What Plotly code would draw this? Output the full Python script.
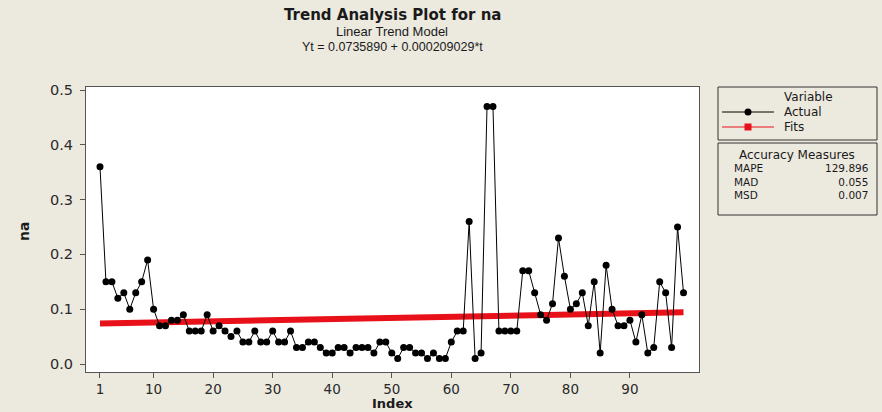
import plotly.graph_objects as go

# ---- data ----
index = list(range(1, 100))
actual = [
    0.36, 0.15, 0.15, 0.12, 0.13, 0.10, 0.13, 0.15, 0.19, 0.10,
    0.07, 0.07, 0.08, 0.08, 0.09, 0.06, 0.06, 0.06, 0.09, 0.06,
    0.07, 0.06, 0.05, 0.06, 0.04, 0.04, 0.06, 0.04, 0.04, 0.06,
    0.04, 0.04, 0.06, 0.03, 0.03, 0.04, 0.04, 0.03, 0.02, 0.02,
    0.03, 0.03, 0.02, 0.03, 0.03, 0.03, 0.02, 0.04, 0.04, 0.02,
    0.01, 0.03, 0.03, 0.02, 0.02, 0.01, 0.02, 0.01, 0.01, 0.04,
    0.06, 0.06, 0.26, 0.01, 0.02, 0.47, 0.47, 0.06, 0.06, 0.06,
    0.06, 0.17, 0.17, 0.13, 0.09, 0.08, 0.11, 0.23, 0.16, 0.10,
    0.11, 0.13, 0.07, 0.15, 0.02, 0.18, 0.10, 0.07, 0.07, 0.08,
    0.04, 0.09, 0.02, 0.03, 0.15, 0.13, 0.03, 0.25, 0.13,
]
fit_x = [1, 99]
fit_y = [0.07380, 0.09429]

x_ticks = [1, 10, 20, 30, 40, 50, 60, 70, 80, 90]
y_ticks = [0.0, 0.1, 0.2, 0.3, 0.4, 0.5]

measure_names = ["MAPE", "MAD", "MSD"]
measure_values = ["129.896", "0.055", "0.007"]

title_text = "Trend Analysis Plot for na"
subtitle_text = "Linear Trend Model"
formula_text = "Yt = 0.0735890 + 0.000209029*t"

# ---- layout geometry (pixels) ----
W, H = 882, 412
L, R, T, B = 86, 699, 87, 372


def px(x):
    return (x - L) / (R - L)


def py(y):
    return (B - y) / (B - T)


FONT = "DejaVu Sans"
FONT2 = "Liberation Sans"
TXT = "#1a1a1a"
BG = "#ECE9DF"
LEG = 12
MEAS = 10.5

fig = go.Figure()

fig.add_trace(go.Scatter(
    x=fit_x, y=fit_y, mode="lines", name="Fits",
    line=dict(color="#E8111A", width=6), showlegend=False,
))
fig.add_trace(go.Scatter(
    x=index, y=actual, mode="lines+markers", name="Actual",
    line=dict(color="#000000", width=1),
    marker=dict(color="#000000", size=7, symbol="circle"),
    showlegend=False,
))

annotations = [
    dict(text="<b>" + title_text + "</b>", x=px(392), y=py(15), font=dict(size=15, family=FONT, color=TXT)),
    dict(text=subtitle_text, x=px(392), y=py(31), font=dict(size=13, family=FONT2, color=TXT)),
    dict(text=formula_text, x=px(392), y=py(47), font=dict(size=12.5, family=FONT2, color=TXT)),
    dict(text="<b>na</b>", x=px(24), y=py(232), textangle=-90, font=dict(size=14, family=FONT, color=TXT)),
    dict(text="<b>Index</b>", x=px(392), y=py(394), yanchor="top", font=dict(size=13, family=FONT, color=TXT)),
    # legend
    dict(text="Variable", x=px(808), y=py(97), font=dict(size=LEG, family=FONT, color=TXT)),
    dict(text="Actual", x=px(782), y=py(112), xanchor="left", font=dict(size=LEG, family=FONT, color=TXT)),
    dict(text="Fits", x=px(782), y=py(127), xanchor="left", font=dict(size=LEG, family=FONT, color=TXT)),
    dict(text="Accuracy Measures", x=px(797), y=py(155), font=dict(size=LEG, family=FONT, color=TXT)),
    dict(text="<br>".join(measure_names), x=px(732), y=py(181.5), xanchor="left", align="left",
         font=dict(size=MEAS, family=FONT, color=TXT)),
    dict(text="<br>".join(measure_values), x=px(871), y=py(181.5), xanchor="right", align="right",
         font=dict(size=MEAS, family=FONT, color=TXT)),
]

for a in annotations:
    a.setdefault("xanchor", "center")
    a.setdefault("yanchor", "middle")
    a["xref"] = "paper"
    a["yref"] = "paper"
    a["showarrow"] = False

shapes = [
    dict(type="rect", x0=px(718), x1=px(877), y0=py(140), y1=py(87), line=dict(color="#333", width=1)),
    dict(type="rect", x0=px(718), x1=px(877), y0=py(215), y1=py(143), line=dict(color="#333", width=1)),
    dict(type="line", x0=px(722), x1=px(774), y0=py(112), y1=py(112), line=dict(color="#000", width=1)),
    dict(type="circle", x0=px(744.5), x1=px(751.5), y0=py(115.5), y1=py(108.5), fillcolor="#000", line=dict(color="#000", width=0)),
    dict(type="line", x0=px(722), x1=px(774), y0=py(127), y1=py(127), line=dict(color="#E8111A", width=1)),
    dict(type="rect", x0=px(744.5), x1=px(751.5), y0=py(130.5), y1=py(123.5), fillcolor="#E8111A", line=dict(color="#E8111A", width=0)),
]
for s in shapes:
    s["xref"] = "paper"
    s["yref"] = "paper"
    s["layer"] = "above"

fig.update_layout(
    width=W, height=H,
    margin=dict(l=L, r=W - R, t=T, b=H - B, pad=0),
    paper_bgcolor=BG, plot_bgcolor="#FFFFFF",
    font=dict(family=FONT, size=14, color=TXT),
    showlegend=False,
    annotations=annotations,
    shapes=shapes,
)
fig.update_xaxes(
    range=[-1.35, 101.6], tickmode="array", tickvals=x_ticks,
    ticks="outside", ticklen=5, tickcolor="#555", showgrid=False, zeroline=False,
    showline=True, linecolor="#555", linewidth=1, mirror=True,
    tickfont=dict(size=13.5, family=FONT, color="#2a2a2a"),
)
fig.update_yaxes(
    range=[-0.0146, 0.5055], tickmode="array", tickvals=y_ticks, tickformat=".1f",
    ticks="outside", ticklen=5, tickcolor="#555", showgrid=False, zeroline=False,
    showline=True, linecolor="#555", linewidth=1, mirror=True, ticklabelstandoff=4,
    tickfont=dict(size=14.5, family=FONT, color="#2a2a2a"),
)

fig.write_html(
    "out.html",
    config={"displayModeBar": False},
    post_script="document.body.style.margin='0';document.body.style.overflow='hidden';",
)
